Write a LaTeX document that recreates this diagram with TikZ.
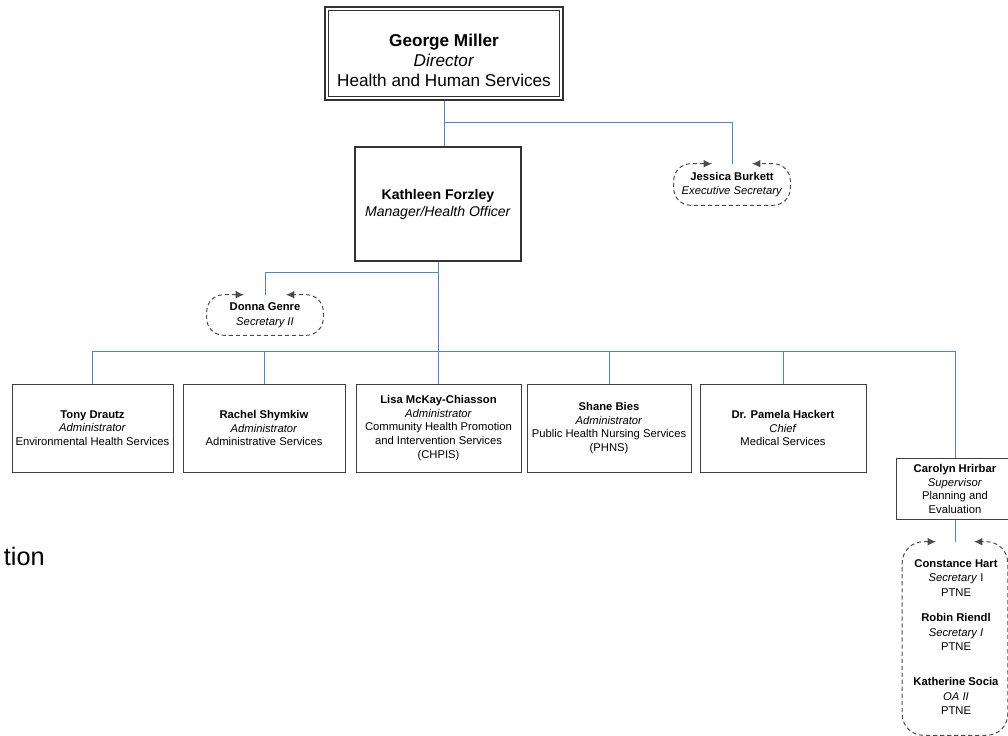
\documentclass[tikz,border=0pt]{standalone}
\usepackage{fontspec}
\setmainfont{Liberation Sans}
\usetikzlibrary{calc,positioning,arrows.meta}
\definecolor{linkblue}{RGB}{84,130,210}
\begin{document}
\begin{tikzpicture}[x=0.025cm,y=-0.025cm,every node/.style={align=center,inner sep=0pt},
     boxsize/.style 2 args={minimum width=#1*0.025cm,minimum height=#2*0.025cm},
     unit/.style={draw=black!75,line width=0.7pt,font=\fontsize{8}{9.8}\selectfont},
     side/.style={font=\fontsize{8}{10.4}\selectfont},
     dbox/.style={draw=black!70,line width=0.7pt,dash pattern=on 3pt off 2pt,
       {Latex[length=6pt,width=5.5pt]}-{Latex[length=6pt,width=5.5pt]}},
     link/.style={draw=linkblue,line width=0.7pt}]
     \useasboundingbox (0,0) rectangle (1008,736);
     \node at (444,53.5)[draw=black!80,line width=1.2pt,boxsize={238}{93},font=\fontsize{12.2}{14.2}\selectfont](director){\rule{0pt}{19pt}\textbf{George Miller}\\\textit{Director}\\Health and Human Services};
     \draw[black!80,line width=0.5pt]([shift={(4,4)}]director.north west) rectangle ([shift={(-4,-4)}]director.south east);
     \node at ($(director)+(-6,150.5)$)[draw=black!80,line width=0.8pt,boxsize={166}{114},font=\fontsize{10}{12.1}\selectfont](kathleen){\textbf{Kathleen Forzley}\\\textit{Manager/Health Officer}};
     \node at ($(director)+(288,131)$)[side,boxsize={116}{41}](jessica){\textbf{Jessica Burkett}\\\textit{Executive Secretary}};
     \node at ($(kathleen)+(-173,111)$)[side,boxsize={116}{40}](donna){\textbf{Donna Genre}\\\textit{Secretary II}};
     \node at (92.5,428)[unit,boxsize={161}{88}](tony){\textbf{Tony Drautz}\\\textit{Administrator}\\Environmental Health Services};
     \node at ($(tony)+(171.5,0)$)[unit,boxsize={162}{88}](rachel){\textbf{Rachel Shymkiw}\\\textit{Administrator}\\Administrative Services};
     \node at ($(tony)+(346,0)$)[unit,boxsize={165}{88}](lisa){\textbf{Lisa McKay-Chiasson}\\\textit{Administrator}\\Community Health Promotion\\and Intervention Services\\(CHPIS)};
     \node at ($(tony)+(516.5,0)$)[unit,boxsize={164}{88}](shane){\textbf{Shane Bies}\\\textit{Administrator}\\Public Health Nursing Services\\(PHNS)};
     \node at ($(tony)+(690.5,0)$)[unit,boxsize={166}{88}](pamela){\textbf{Dr. Pamela Hackert}\\\textit{Chief}\\Medical Services};
     \node at (955,489)[unit,boxsize={118}{61}](carolyn){\textbf{Carolyn Hrirbar}\\\textit{Supervisor}\\Planning and\\Evaluation};
     \node at (955,638.5)[boxsize={105}{193}](group){};
     \node at (956,578)[side](constance){\textbf{Constance Hart}\\\textit{Secretary} I\\PTNE};
     \node at (956,632)[side](robin){\textbf{Robin Riendl}\\\textit{Secretary I}\\PTNE};
     \node at (956,696)[side](katherine){\textbf{Katherine Socia}\\\textit{OA II}\\PTNE};
     \node at (45,565)[anchor=base east,font=\fontsize{18}{20}\selectfont](tion){tion};
     \coordinate (bus) at ($(kathleen.south)+(0,90)$);
     % dashed boxes with arrows into the gap
     \draw[dbox,rounded corners=12pt]($(jessica.north)+(-20,0)$)--(jessica.north west)--(jessica.south west)--(jessica.south east)--(jessica.north east)--($(jessica.north)+(20,0)$);
     \draw[dbox,rounded corners=12pt]($(donna.north)+(-21,0)$)--(donna.north west)--(donna.south west)--(donna.south east)--(donna.north east)--($(donna.north)+(21,0)$);
     \draw[dbox,rounded corners=15pt]($(group.north)+(-19,0)$)--(group.north west)--(group.south west)--(group.south east)--(group.north east)--($(group.north)+(19,0)$);
     % connectors
     \path[link](director.south)edge(director.south |- kathleen.north);
     \draw[link]($(director.south)+(0,22)$)-|(jessica.north);
     \draw[link](kathleen.south)--(bus);
     \draw[link]($(kathleen.south)+(0,11)$)-|(donna.north);
     \draw[link](tony.north)|-(bus);
     \draw[link](rachel.north)|-(bus);
     \draw[link](lisa.north)--(lisa.north |- bus);
     \draw[link](shane.north)|-(bus);
     \draw[link](pamela.north)|-(bus);
     \draw[link](carolyn.north)|-(bus);
     \draw[link](carolyn.south)--(group.north);
\end{tikzpicture}
\end{document}
